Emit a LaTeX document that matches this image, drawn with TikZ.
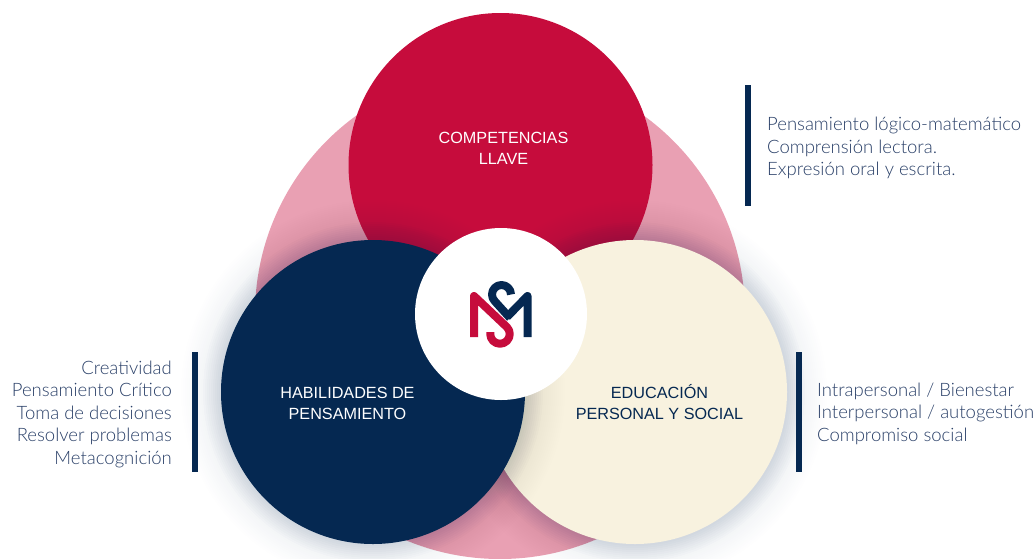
\documentclass[tikz,border=0pt]{standalone}
\usepackage{fontspec}
\setmainfont{Lato Light}
\newfontfamily\headfont{Liberation Sans}
\usetikzlibrary{shapes.geometric}
\definecolor{crimson}{HTML}{C60C3C}
\definecolor{navy}{HTML}{052851}
\definecolor{cream}{HTML}{F8F2DF}
\definecolor{rose}{HTML}{E9A0B3}
\definecolor{sidetxt}{HTML}{2A4068}
\tikzset{
  disc/.style={circle,minimum size=304pt,inner sep=0pt,outer sep=0pt},
  headlabel/.style={font=\headfont\fontsize{16.2}{21}\selectfont,align=center,inner sep=0pt},
  sidelabel/.style={font=\fontsize{18.5}{22.5}\selectfont,inner sep=0pt},
  sidebar/.style={fill=navy,draw=none},
  logostroke/.style={line width=8pt,line join=round,line cap=butt}
}
\newcommand{\softshadow}[1]{%
  \foreach \r in {152,154,...,192}{\fill[navy,opacity=0.005] #1 circle[radius=\r];}
  \foreach \r in {152,154,...,170}{\fill[navy,opacity=0.011] #1 circle[radius=\r];}
}
\begin{document}
\begin{tikzpicture}[x=1pt,y=-1pt]
\useasboundingbox (0,0) rectangle (1036,558);
\begin{scope}
\clip (0,13) rectangle (1036,558);
\node[circle,fill=rose,minimum size=490pt,inner sep=0pt] (pink) at (500,314) {};
\node[disc,fill=crimson] (red) at (500.5,165) {};
\softshadow{(635,392)}
\node[disc,fill=cream] (ivory) at (635,392) {};
\softshadow{(373,392)}
\node[disc,fill=navy] (blue) at (373,392) {};
\end{scope}
\node[circle,fill=white,minimum size=172pt,inner sep=0pt] (hub) at (501,314) {};
\node[headlabel,text=white] (t1) at (503.5,148.5) {COMPETENCIAS\\LLAVE};
\node[headlabel,text=white] (t2) at (347.5,403) {HABILIDADES DE\\PENSAMIENTO};
\node[headlabel,text=navy] (t3) at (659.5,402.5) {EDUCACIÓN\\PERSONAL Y SOCIAL};
\fill[sidebar] (745,85) rectangle (751,206);
\fill[sidebar] (192,352) rectangle (198,472);
\fill[sidebar] (796,352) rectangle (802,472);
\node[sidelabel,text=sidetxt,anchor=west,align=left] (r1) at (767,148) {Pensamiento lógico-matemático\\Comprensión lectora.\\Expresión oral y escrita.};
\node[sidelabel,text=sidetxt,anchor=east,align=right] (l1) at (172,414) {Creatividad\\Pensamiento Crítico\\Toma de decisiones\\Resolver problemas\\Metacognición};
\node[sidelabel,text=sidetxt,anchor=west,align=left] (r2) at (817,413.5) {Intrapersonal / Bienestar\\Interpersonal / autogestión\\Compromiso social};
% logo
\draw[logostroke,navy] (527.5,337) -- (527.5,296) -- (507,317);
\draw[logostroke,navy] (511,294.5) arc[start angle=0,end angle=-225,radius=9.5] -- (510,318);
\draw[logostroke,crimson] (474,337) -- (474,296) -- (506.9,327.1) arc[start angle=-45,end angle=180,radius=9.75] -- ++(0,-2);
\end{tikzpicture}
\end{document}
